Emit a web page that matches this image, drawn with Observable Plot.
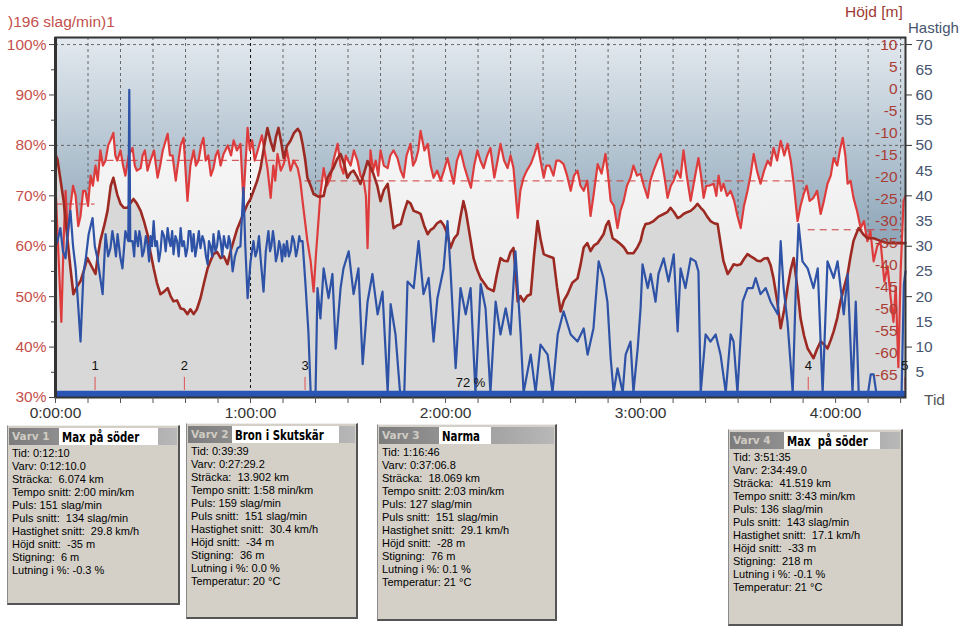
<!DOCTYPE html>
<html><head><meta charset="utf-8">
<script src="https://cdn.jsdelivr.net/npm/d3@7"></script>
<script src="https://cdn.jsdelivr.net/npm/@observablehq/plot@0.6"></script>
<style>
body{margin:0;background:#fff;overflow:hidden;font-family:"Liberation Sans",Arial,sans-serif}
#wrap{position:relative;width:961px;height:634px;overflow:hidden;background:#fff}
#chart{position:absolute;left:0;top:0}
.lbl{position:absolute;font-size:15.5px;white-space:nowrap;line-height:16px}
.box{position:absolute;background:#d4d0c8;border-top:1px solid #eeeeee;border-left:1px solid #8a8a8a;border-right:2px solid #555;border-bottom:2px solid #555;box-sizing:border-box}
.hdr{position:absolute;left:1px;right:1px;top:2px;height:17px;background:linear-gradient(90deg,#7c7c7c,#b8b8b8)}
.vv{position:absolute;left:3px;top:2px;font:bold 10.5px "DejaVu Sans",Verdana,sans-serif;color:#d0ccc4;white-space:pre}
.nm{position:absolute;top:0;height:17px;background:#fff;color:#000;line-height:17px;padding-left:3px;box-sizing:border-box;white-space:pre;overflow:hidden}
.nm span{display:inline-block;font:bold 13.5px "Liberation Sans Narrow","DejaVu Sans Condensed",sans-serif;transform:scaleX(0.84);transform-origin:0 50%}
.lines{position:absolute;left:4px;top:21px;font-size:11px;line-height:13px;color:#000;white-space:pre}
</style>
</head><body><div id="wrap"><div id="chart"></div></div>
<script>
// ---------- DATA ----------
// Puls in % of 196 slag/min, [minutes, percent]
const pulse = [[0,72],[0.6,63],[1.8,45],[2.5,61],[3.1,71],[3.8,62],[4.6,68],[5.4,72],[6.2,70],[7,64],[7.7,66],[8.5,71],[9.2,71],[10,68],[10.8,74],[11.5,72],[12.3,76],[13,73],[13.8,79],[14.6,76],[15.4,77],[16.2,80],[16.9,81],[17.8,82.5],[18.4,78],[19,77],[20,79],[20.8,76],[21.5,74],[22.5,78],[23.7,79.5],[24.4,76],[25,75],[26.2,75.5],[26.8,78],[27.5,79],[28.3,75],[29.2,77],[30.3,79],[31.4,73.6],[32.2,76],[33,79],[34.5,82.3],[35.2,78],[36,78],[37,73],[37.5,75.5],[38.5,80],[39.4,81.5],[40.6,69],[41.5,76],[42.5,79],[43.2,76],[44,77],[44.8,80],[45.5,81.5],[46.2,77],[47,78],[47.8,74],[48.6,75.5],[49.3,78],[50,79],[50.8,76],[51.7,78.3],[53,80],[54,78],[54.8,81],[55.8,79],[56.9,80.3],[57.8,69],[59.1,83.5],[59.8,79],[60.5,81],[61.3,77],[62.2,79],[63.5,82],[64.3,79],[65.2,75.5],[66.2,69.6],[67,76],[67.6,73],[68.3,78.3],[69.3,75],[70.2,76.3],[71.2,79],[72.3,75],[73.3,77],[74.5,75.5],[75.3,73],[76,69],[77.5,61],[78.5,57],[79.4,51],[80.2,59],[80.6,62.4],[81.5,70.4],[82.5,75.5],[83.5,72],[84.6,73.6],[85.5,77],[86.8,80.3],[87.7,76],[88.6,74.4],[89.3,78],[90,77],[90.8,76],[91.8,79],[92.9,77],[93.8,74],[94.8,73],[95.5,70],[96,59.6],[96.9,79],[97.7,75],[98.5,77],[99.3,74],[100,79],[101,76],[102.2,75.5],[103,78],[104,79],[105.2,77.5],[106.2,75],[107.1,73.6],[108,78],[109.2,80.3],[110,76],[110.8,77],[111.6,79],[112.3,82.9],[113.5,79],[114.5,80.3],[115.4,76],[116.3,73.6],[117.4,75],[118.5,73],[119.5,75],[120.6,77.5],[121.5,75],[122.5,72.4],[123.5,77],[124.6,79],[125.7,76],[126.8,73.6],[127.8,71.6],[128.8,76],[129.8,79],[130.7,77],[131.7,75.5],[132.8,78],[133.8,79.5],[135,73.6],[136,77],[136.9,80.3],[138,77],[139.1,75.5],[140,78],[140.9,75.5],[142.2,65.6],[143,71],[144,73.6],[145,75],[146.2,76.3],[147.2,78],[148.3,80.3],[149.2,77],[150.2,73.6],[151,76],[152,76],[153.2,74],[154.1,77],[155,77],[156.3,76.3],[157.4,74],[158.5,71],[159.5,74],[160.6,75],[161.5,72],[162.5,71],[163.6,73],[164.6,66],[165.5,70],[166.8,76.3],[168,74.4],[169.2,78.3],[170,74],[170.8,69],[171.8,68],[172.9,63.6],[173.8,67],[174.8,69],[175.8,72],[176.9,73.6],[177.8,76],[178.9,74],[180,74.4],[181,72],[182.2,69.6],[183,73],[184,75],[185.2,77],[186.2,78.3],[187.3,74],[188.3,69.6],[189.3,72],[190.2,73],[191.2,75],[192.3,73.6],[193.2,79],[194.2,74],[195.4,69],[196.5,73],[197.8,77.5],[198.6,74],[199.4,69.6],[200.2,72],[201,72],[202.5,72.4],[203.3,70],[204,74],[204.8,71],[205.5,72.4],[206.6,70],[207.7,71],[208.8,69],[209.8,66],[210.8,63.6],[211.8,68],[212.9,71],[213.8,74],[214.8,78.3],[215.8,75],[216.9,72.4],[218,75],[219.1,77],[220,76],[220.9,79.5],[222,77],[223.1,80.9],[224.2,78],[225.2,80.3],[226.2,77],[227.1,72.4],[228.3,65],[229.2,68],[230.2,70.4],[231.1,72],[232,69],[233.2,69.6],[234.3,71],[235.4,66.4],[236.4,69],[237.5,72.4],[238.5,74],[239.4,77.5],[240.5,76],[241.3,79],[242.2,81.5],[243,78],[243.7,72.4],[244.6,73],[245.5,69.6],[246.6,67],[247.7,63.6],[248.7,65],[249.8,61],[250.7,63],[251.7,57],[252.8,60],[253.8,61],[255,53],[256,56],[256.9,50],[257.8,45],[258.5,52],[259.3,36],[260,55],[260.9,69],[261.5,70]];

// Höjd [m], [minutes, metres]
const altitude = [[0,-15],[0.6,-16],[2.5,-25.5],[4.6,-40.7],[5.5,-46.6],[6.5,-45],[7.7,-43.6],[8.8,-41],[9.8,-38.4],[11.4,-40.7],[12.3,-42],[13,-38],[13.8,-34.5],[15,-31],[16,-27.7],[17,-22],[17.8,-20.2],[19,-24],[20,-26.1],[21,-27],[22.2,-27],[23,-26],[24,-25],[25,-26],[26.2,-27.7],[27.2,-30],[28.3,-33],[29.2,-37],[30.2,-40.7],[31.2,-44],[32.3,-46.6],[33.4,-46],[34.5,-45.2],[35.4,-47],[36.3,-48.2],[37.4,-48],[38.5,-49.8],[39.5,-50],[40.6,-51.1],[41.5,-50],[42.5,-51.1],[43.5,-50],[44.6,-47.5],[45.7,-44],[46.8,-40.7],[47.7,-39],[48.6,-37.5],[49.7,-37],[50.8,-38.4],[51.8,-38],[52.9,-39.8],[53.8,-37],[54.8,-34.5],[55.8,-32],[56.9,-30],[58,-28],[59.1,-26.1],[60,-25],[60.9,-23.2],[62,-21],[63.1,-18],[64.2,-13],[65.2,-8.9],[66.2,-12],[67.1,-14.1],[67.8,-11],[68.6,-8.9],[69.4,-12],[70.2,-15.7],[71.2,-13],[72.3,-11.8],[73.4,-10],[74.5,-9.1],[75.3,-10],[76,-12.5],[76.8,-16],[77.5,-20.2],[78.5,-22],[79.4,-23.9],[81,-24.5],[82.5,-24.3],[83.7,-20.2],[84.6,-19],[85.5,-18],[86.6,-16],[87.7,-14.8],[88.8,-17],[89.8,-20.2],[90.8,-19],[91.7,-18.6],[92.8,-20],[93.8,-21.6],[95,-19],[96,-16.4],[97,-18],[97.8,-19.3],[99,-22],[100,-25.5],[101,-23],[102.2,-21.6],[103,-26],[104,-31.6],[105.1,-31],[106.2,-30.7],[107.2,-28],[108.3,-25.5],[109.2,-26],[110.2,-27.7],[111.3,-28],[112.3,-28.4],[113.4,-31],[114.5,-33],[115.4,-32],[116.3,-31.6],[117.4,-30.5],[118.5,-30],[119.5,-31],[120.6,-33],[121.5,-36.1],[122.6,-34],[123.7,-33],[124.6,-29],[125.5,-25.5],[126.3,-28],[127.1,-31.6],[128.6,-38.4],[129.7,-41],[130.8,-43],[131.8,-44],[132.9,-45.2],[134.8,-45.9],[135.8,-42],[136.9,-38.4],[138,-39],[139.1,-39.1],[140,-37],[140.9,-36.1],[141.6,-42],[142.2,-48.2],[143,-47],[144,-48.2],[145.1,-47],[146.2,-46.6],[147.2,-38],[148.3,-30],[149.2,-34],[150.2,-37.5],[151.7,-38],[153.2,-38.4],[154.3,-45],[155.4,-50.5],[156.4,-48],[157.5,-46.6],[159,-44],[160.6,-43],[161.5,-40],[162.5,-36],[163.6,-35],[164.6,-36.8],[165.7,-35.5],[166.8,-35],[167.7,-34],[168.6,-33],[169.4,-31],[170.2,-30],[170.8,-32],[171.4,-33.9],[172.6,-34.5],[173.8,-35.2],[174.9,-36],[176,-37.3],[177.8,-37.3],[179,-36],[180,-34.5],[180.8,-32],[181.5,-30.7],[182.8,-30.5],[184,-30],[185.5,-29],[187.1,-28.4],[188.2,-28],[189.2,-27],[190.3,-28],[191.4,-29.3],[192.3,-29],[193.2,-28.4],[194.3,-28],[195.4,-27.7],[196.5,-27],[197.5,-26.1],[198.5,-27],[199.4,-27.7],[200.5,-29],[201.5,-30],[202.6,-30.5],[203.7,-30.7],[204.6,-35],[205.5,-39.1],[206.8,-42],[207.7,-41],[208.6,-39.8],[209.7,-40],[210.8,-39.8],[211.9,-38.5],[212.9,-37.5],[213.9,-38],[214.8,-38.4],[215.9,-39],[216.9,-39.1],[218,-38.5],[219.1,-38.4],[220,-40],[220.9,-43],[222,-48],[223.1,-54.3],[224.2,-50],[225.2,-45.2],[226.2,-41],[227.1,-38.4],[228.2,-45],[229.2,-52],[230.3,-56],[231.4,-58.9],[232.3,-60],[233.2,-61.1],[234.3,-59],[235.4,-57.3],[236.5,-58],[237.5,-58.9],[238.5,-57],[239.4,-55],[240.5,-52],[241.5,-48.2],[242.6,-45],[243.7,-42],[244.6,-38],[245.5,-34.5],[246.3,-33],[247.1,-31.6],[248.5,-33],[249.8,-33.9],[251.7,-33.9],[253.8,-34.5],[255.8,-35],[257.8,-35],[259.8,-35],[261.5,-35]];

// Hastighet [km/h], [minutes, km/h]
const speed = [[0,30],[0.6,31],[1.5,33.6],[2.3,29],[3.1,27.6],[3.8,33],[4.6,37],[5.4,30],[6.2,25.6],[7,18],[7.7,11.1],[8.6,24.5],[9.4,28],[10.2,32.4],[11.4,35.6],[12.1,30],[12.9,27.6],[13.7,24],[14.5,20.5],[15.4,32.4],[16.2,28],[16.9,29.6],[17.5,33],[18,31],[18.6,28],[19.1,32.4],[19.9,28],[20.6,25.6],[21.5,33],[22.4,31],[22.7,61],[23,31],[23.7,31],[24.2,28],[24.6,33],[25.4,30],[25.8,33],[26.2,31.6],[26.7,28],[27.2,29],[27.8,32],[28.3,30.4],[28.8,27],[29.2,32],[29.7,30],[30.2,35],[30.7,30],[31.2,31],[31.8,27],[32.3,29],[32.8,33],[33.4,32],[33.9,29],[34.5,33.6],[35,31],[35.4,30],[35.9,33],[36.3,28.4],[36.9,32],[37.4,31],[37.9,28],[38.5,33.6],[39,30],[39.5,31],[40.1,28],[40.6,29.6],[41,33],[41.5,33],[42,29],[42.5,32.4],[43,28],[43.5,30],[44.1,33],[44.6,29.6],[45.2,32],[45.7,31],[46.3,28],[46.8,26.4],[47.2,31],[47.7,30],[48.2,28],[48.6,32.4],[49.2,29],[49.7,30],[50.2,33],[50.8,31],[51.3,28],[51.8,32],[52.4,30],[52.9,29.6],[53.3,32],[53.7,31],[54.5,25],[55.2,28],[56,29.6],[56.9,30],[57.8,41.6],[58.4,30],[59.1,19.7],[60,27],[60.9,31],[61.5,28],[62,29],[62.6,32],[63.1,27.6],[64,21],[64.7,29],[65.5,33],[66,29],[66.4,30],[66.9,33],[67.3,31],[67.8,27],[68.3,28.4],[68.8,31],[69.2,30],[69.7,27],[70.2,30.4],[70.7,28],[71.2,31],[71.8,28],[72.3,29],[72.9,32],[73.4,31],[74,28],[74.5,29.6],[75,32],[75.3,31],[76,31],[76.9,22.5],[77.8,13.1],[78.5,1],[80,1],[80.6,21.7],[81.5,15.7],[82.5,25.6],[84,19.7],[85.2,24.5],[86.2,9.7],[87.7,21.7],[88.6,25.6],[90.2,29],[91.7,20.5],[93.2,25.6],[94.5,6.6],[96,19],[97.5,24.5],[99.1,16.5],[100.6,21],[102.2,1],[103.1,18.5],[104.6,12.5],[106,1],[107.3,1],[108.3,23],[110.2,21.7],[111.7,31],[113.2,20.5],[114.8,23.7],[116.3,11.1],[117.5,19.7],[119.4,25.6],[120.6,35],[121.5,25.6],[123.1,5.8],[124.6,21.7],[126.2,16.5],[127.7,21.7],[129.2,1],[130.8,22.5],[132.3,17.7],[133.8,1],[135.4,19],[136.9,12.5],[138.5,17.7],[140,12.5],[141.5,29],[143.1,12.5],[144,1],[146.2,8.5],[147.7,1],[149.2,10.5],[151.4,8.5],[152.9,1],[154.5,12.5],[156.3,17.1],[158.5,12.5],[160.6,11.1],[162.5,13.7],[163.7,8.5],[165.5,13.7],[167.1,27],[168.6,23.7],[169.8,19],[170.8,7.8],[171.7,1],[172.9,5.8],[174.5,1],[175.4,8.5],[176.9,11.1],[177.8,1],[179.1,9.7],[180,17.7],[180.6,26.4],[182.2,21.7],[183.1,24.5],[184.6,19],[185.5,24.5],[187.1,27.6],[188.6,23],[190.2,28.4],[191.4,13.1],[192.3,25.6],[193.8,21.7],[195.4,27.6],[196.9,27],[197.8,25],[198.5,1],[200,12.5],[201.5,11.1],[203.1,12.5],[204.6,8.5],[206.2,1],[207.7,12.5],[208.6,11.1],[209.8,1],[211.4,19],[212.9,21.7],[214.5,21.7],[215.4,23.7],[216.9,20.5],[218.5,21.7],[220,19],[222.2,16.5],[223.1,31],[224,21.7],[225.2,15],[226.8,1],[227.7,20.5],[228.6,34.4],[229.8,27],[231.4,25.6],[233.2,21.7],[234.5,25.6],[236,1],[237.5,27],[239.4,23.7],[240.6,27],[242.5,16.5],[243.7,24.5],[245.2,1],[246.2,19],[247.1,1],[250,1],[250.8,4.6],[251.7,4.6],[252.5,1],[260.3,1],[261,22.5],[261.5,25]];

// Laps
const lapEnd = [12.17, 39.65, 76.77, 231.58, 261.3];
const lapLabels = ["1", "2", "3", "4", "5"];
const lapAvgPuls = [134, 151, 151, 143, 124]; // slag/min
const maxPuls = 196;
const zoneText = "72 %";
const zoneAt = 127.7;

// Axis ticks
const pctMajor = [30, 40, 50, 60, 70, 80, 90, 100];
const pctMinor = [35, 45, 55, 65, 75, 85, 95];
const hoydTicks = [-65,-60,-55,-50,-45,-40,-35,-30,-25,-20,-15,-10,-5,0,5,10];
const hastTicks = [5,10,15,20,25,30,35,40,45,50,55,60,65,70];
const hastMajor = [10,20,30,40,50,60,70];
const minuteTicks = d3.range(0, 261, 10);
const hourTicks = [0, 60, 120, 180, 240];
const gridPct = [80, 100];

// Info boxes
const lapNames = ["Max på söder", "Bron i Skutskär", "Narma", "Max  på söder"];
const lapInfo = [
  ["Tid: 0:12:10","Varv: 0:12:10.0","Sträcka:  6.074 km","Tempo snitt: 2:00 min/km","Puls: 151 slag/min","Puls snitt:  134 slag/min","Hastighet snitt:  29.8 km/h","Höjd snitt:  -35 m","Stigning:  6 m","Lutning i %: -0.3 %"],
  ["Tid: 0:39:39","Varv: 0:27:29.2","Sträcka:  13.902 km","Tempo snitt: 1:58 min/km","Puls: 159 slag/min","Puls snitt:  151 slag/min","Hastighet snitt:  30.4 km/h","Höjd snitt:  -34 m","Stigning:  36 m","Lutning i %: 0.0 %","Temperatur: 20 °C"],
  ["Tid: 1:16:46","Varv: 0:37:06.8","Sträcka:  18.069 km","Tempo snitt: 2:03 min/km","Puls: 127 slag/min","Puls snitt:  151 slag/min","Hastighet snitt:  29.1 km/h","Höjd snitt:  -28 m","Stigning:  76 m","Lutning i %: 0.1 %","Temperatur: 21 °C"],
  ["Tid: 3:51:35","Varv: 2:34:49.0","Sträcka:  41.519 km","Tempo snitt: 3:43 min/km","Puls: 136 slag/min","Puls snitt:  143 slag/min","Hastighet snitt:  17.1 km/h","Höjd snitt:  -33 m","Stigning:  218 m","Lutning i %: -0.1 %","Temperatur: 21 °C"]
];

// ---------- CHART ----------
const altPct = h => 30 + (h + 70) * 0.875;   // Höjd -70..10 m onto 30..100 %
const spdPct = v => 30 + v;                   // Hastighet 0..70 km/h onto 30..100 %
const laps = lapEnd.map((e, i) => ({start: i ? lapEnd[i-1] : 0, end: e, label: lapLabels[i], avg: lapAvgPuls[i] / maxPuls * 100}));
const fmtHour = m => `${m / 60}:00:00`;

const chart = Plot.plot({
  width: 961, height: 420,
  marginLeft: 55, marginRight: 56, marginTop: 37, marginBottom: 23,
  x: {domain: [0, 261.5]},
  y: {domain: [30, 101.4]},
  style: {fontFamily: "Liberation Sans, Arial, sans-serif", background: "transparent"},
  marks: [
    Plot.frame({fill: "url(#bgGrad)"}),
    Plot.ruleX(minuteTicks.filter(m => m > 0), {stroke: "#5a5a5a", strokeDasharray: "3,3", strokeWidth: 0.9}),
    Plot.ruleY(gridPct, {stroke: "#5a5a5a", strokeDasharray: "3,3", strokeWidth: 0.9}),
    Plot.areaY(pulse, {x: d => d[0], y1: 30, y2: d => d[1], fill: "url(#pulseGrad)"}),
    Plot.areaY(altitude, {x: d => d[0], y1: 30, y2: d => altPct(d[1]), fill: "#d8d8d8"}),
    Plot.ruleX([60], {stroke: "#111", strokeDasharray: "3,3", strokeWidth: 1}),
    Plot.ruleY(laps, {x1: "start", x2: "end", y: "avg", stroke: "#cc3a3a", strokeDasharray: "7,5", strokeWidth: 1}),
    Plot.line(pulse, {x: d => d[0], y: d => d[1], stroke: "#de3c3c", strokeWidth: 2.2, strokeLinejoin: "round"}),
    Plot.line(altitude, {x: d => d[0], y: d => altPct(d[1]), stroke: "#9c2a22", strokeWidth: 2.6, strokeLinejoin: "round"}),
    Plot.line(speed, {x: d => d[0], y: d => spdPct(d[1]), stroke: "#2d52a6", strokeWidth: 2.2, strokeLinejoin: "round"}),
    Plot.ruleY([30.65], {stroke: "#2a55b5", strokeWidth: 7}),
    Plot.ruleX(laps, {x: "end", y1: 31.4, y2: 34, stroke: "#e05050", strokeWidth: 1}),
    Plot.text(laps, {x: "end", y: 36.2, text: "label", fontSize: 13, fill: "#111"}),
    Plot.text([zoneText], {x: zoneAt, y: 33, text: d => d, fontSize: 13, fill: "#111"}),
    Plot.frame({stroke: "#333", strokeWidth: 2}),
    Plot.ruleX([0], {stroke: "#333", strokeWidth: 3}),
    Plot.axisY({ticks: pctMajor, tickFormat: d => d + "%", tickSize: 6, tickPadding: 3, fontSize: 15.5, fill: "#c4504b", stroke: "#444", label: null}),
    Plot.axisY({ticks: pctMinor, tickSize: 4, fill: "none", stroke: "#444", label: null}),
    Plot.axisY({anchor: "right", ticks: hoydTicks.map(altPct), tickFormat: p => String(Math.round((p - 30) / 0.875 - 70)), tickSize: 0, tickPadding: -8, textAnchor: "end", fontSize: 15.5, fill: "#ab3c34", label: null}),
    Plot.axisY({anchor: "right", ticks: hastTicks.map(spdPct), tickFormat: p => String(Math.round(p - 30)), tickSize: 0, tickPadding: 10, fontSize: 15.5, fill: "#46546f", label: null}),
    Plot.axisY({anchor: "right", ticks: hastMajor.map(spdPct), tickSize: 6, fill: "none", stroke: "#333", label: null}),
    Plot.axisX({ticks: minuteTicks, tickSize: 6, fill: "none", stroke: "#555", label: null}),
    Plot.axisX({ticks: hourTicks, tickFormat: fmtHour, tickSize: 0, tickPadding: 9, fontSize: 15.5, fill: "#333", label: null})
  ]
});

const defs = document.createElementNS("http://www.w3.org/2000/svg", "defs");
defs.innerHTML = `
<linearGradient id="bgGrad" x1="0" y1="0" x2="0" y2="1">
  <stop offset="0" stop-color="#e3e9ef"/><stop offset="0.55" stop-color="#90a8ba"/><stop offset="1" stop-color="#7890a4"/>
</linearGradient>
<linearGradient id="pulseGrad" x1="0" y1="0" x2="0" y2="1">
  <stop offset="0" stop-color="#f7f7f7"/><stop offset="1" stop-color="#e3e3e3"/>
</linearGradient>`;
chart.insertBefore(defs, chart.firstChild);
document.getElementById("chart").appendChild(chart);

// ---------- HTML labels ----------
const wrap = document.getElementById("wrap");
function addLabel(text, css) {
  const d = document.createElement("div");
  d.className = "lbl"; d.textContent = text; d.style.cssText = css;
  wrap.appendChild(d);
}
addLabel(")196 slag/min)1", "left:8px;top:14px;color:#c4504b");
addLabel("Höjd [m]", "left:845px;top:4px;color:#9e3a33");
addLabel("Hastigh", "left:908px;top:20px;color:#46546f;font-size:15px");
addLabel("Tid", "left:924px;top:392px;color:#555");

// ---------- Info boxes ----------
const boxLayout = [
  {left: 7, top: 425, w: 173, h: 180, nx: 50, nw: 99},
  {left: 186, top: 423, w: 172, h: 196, nx: 44, nw: 107},
  {left: 377, top: 424, w: 180, h: 197, nx: 60, nw: 52},
  {left: 728, top: 429, w: 175, h: 197, nx: 54, nw: 96}
];
lapNames.forEach((name, i) => {
  const L = boxLayout[i];
  const b = document.createElement("div");
  b.className = "box";
  b.style.cssText = `left:${L.left}px;top:${L.top}px;width:${L.w}px;height:${L.h}px`;
  const hdr = document.createElement("div"); hdr.className = "hdr";
  const vv = document.createElement("span"); vv.className = "vv"; vv.textContent = "Varv " + (i + 1);
  const nm = document.createElement("div"); nm.className = "nm";
  const inner = document.createElement("span"); inner.textContent = name; nm.appendChild(inner);
  nm.style.left = L.nx + "px"; nm.style.width = L.nw + "px";
  hdr.appendChild(vv); hdr.appendChild(nm);
  const lines = document.createElement("div"); lines.className = "lines";
  lines.textContent = lapInfo[i].join("\n");
  b.appendChild(hdr); b.appendChild(lines);
  wrap.appendChild(b);
});
</script></body></html>
